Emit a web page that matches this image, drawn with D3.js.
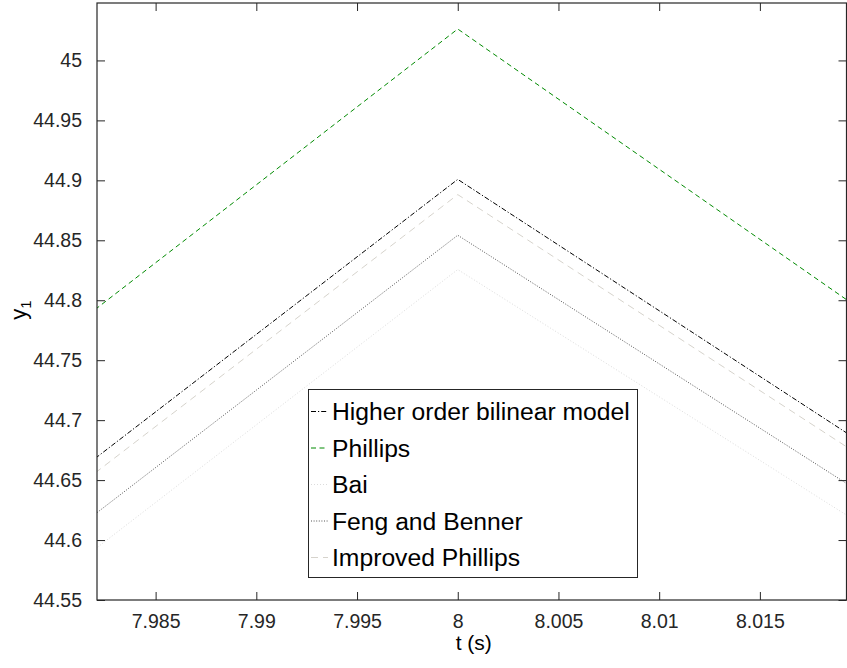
<!DOCTYPE html>
<html>
<head>
<meta charset="utf-8">
<script src="https://cdn.jsdelivr.net/npm/d3@7"></script>
<style>
  html, body { margin: 0; padding: 0; background: #fff; }
  svg { display: block; font-family: "Liberation Sans", Arial, Helvetica, sans-serif; }
</style>
</head>
<body>
<svg id="chart" width="847" height="668"></svg>
<script>
// Time samples (s): window edges and the switching instant
const times = [7.982, 8.0, 8.0193];

// Output y1 for each model
const higherOrder = [44.6681, 44.9008, 44.6894];
const phillips    = [44.7923, 45.0262, 44.8005];
const bai         = [44.5925, 44.8256, 44.6208];
const fengBenner  = [44.6217, 44.8542, 44.6472];
const improved    = [44.6560, 44.8881, 44.6778];

const seriesNames = ["Higher order bilinear model", "Phillips", "Bai", "Feng and Benner", "Improved Phillips"];

const xTicks = [7.985, 7.99, 7.995, 8, 8.005, 8.01, 8.015];
const yTicks = [44.55, 44.6, 44.65, 44.7, 44.75, 44.8, 44.85, 44.9, 44.95, 45];

const xDomain = [7.98209, 8.0193];
const yDomain = [44.55, 45.0479];

// Line styles per series
const styles = [
  { color: "#000000", dash: "5,2,1.2,2", width: 1 },
  { color: "#008a00", dash: "5,3.5",     width: 1 },
  { color: "#dcdcdc", dash: "1,2",       width: 1 },
  { color: "#555555", dash: "1,1.6",     width: 1 },
  { color: "#d6d3cc", dash: "7,5",       width: 1 }
];

const seriesValues = [higherOrder, phillips, bai, fengBenner, improved];

const margin = { left: 97, top: 3, right: 846.5, bottom: 600 };
const svg = d3.select("#chart");

const x = d3.scaleLinear().domain(xDomain).range([margin.left, margin.right]);
const y = d3.scaleLinear().domain(yDomain).range([margin.bottom, margin.top]);

const axisColor = "#262626";
const tickLen = 8;

svg.append("defs").append("clipPath").attr("id", "plotClip")
  .append("rect")
  .attr("x", margin.left).attr("y", margin.top)
  .attr("width", margin.right - margin.left)
  .attr("height", margin.bottom - margin.top);

// Data lines
const line = d3.line().x((d, i) => x(times[i])).y(d => y(d));
const plot = svg.append("g").attr("clip-path", "url(#plotClip)");
seriesValues.forEach((vals, k) => {
  plot.append("path")
    .attr("d", line(vals))
    .attr("fill", "none")
    .attr("stroke", styles[k].color)
    .attr("stroke-width", styles[k].width)
    .attr("stroke-dasharray", styles[k].dash);
});

// Axes: inward ticks on all four sides
const fmt = d => String(+d.toFixed(4));
const bottomAxis = d3.axisBottom(x).tickValues(xTicks).tickSizeInner(-tickLen).tickSizeOuter(0).tickPadding(14).tickFormat(fmt);
const topAxis = d3.axisTop(x).tickValues(xTicks).tickSizeInner(-tickLen).tickSizeOuter(0).tickFormat("");
const leftAxis = d3.axisLeft(y).tickValues(yTicks).tickSizeInner(-tickLen).tickSizeOuter(0).tickPadding(15).tickFormat(fmt);
const rightAxis = d3.axisRight(y).tickValues(yTicks).tickSizeInner(-tickLen).tickSizeOuter(0).tickFormat("");

function styleAxis(g) {
  g.select(".domain").remove();
  g.selectAll(".tick line").attr("stroke", axisColor).attr("stroke-width", 1);
  g.selectAll(".tick text").attr("fill", axisColor).attr("font-size", 19.5)
    .attr("font-family", "'Liberation Sans', Arial, sans-serif");
}

svg.append("g").attr("transform", `translate(0,${margin.bottom})`).call(bottomAxis).call(styleAxis);
svg.append("g").attr("transform", `translate(0,${margin.top})`).call(topAxis).call(styleAxis);
svg.append("g").attr("transform", `translate(${margin.left},0)`).call(leftAxis).call(styleAxis);
svg.append("g").attr("transform", `translate(${margin.right},0)`).call(rightAxis).call(styleAxis);

// Axes box
svg.append("rect")
  .attr("x", margin.left).attr("y", margin.top)
  .attr("width", margin.right - margin.left)
  .attr("height", margin.bottom - margin.top)
  .attr("fill", "none").attr("stroke", axisColor).attr("stroke-width", 1.2);

// Axis labels
svg.append("text")
  .attr("x", (margin.left + margin.right) / 2 + 2).attr("y", 650)
  .attr("text-anchor", "middle").attr("font-size", 21).attr("fill", "#000")
  .text("t (s)");

const yl = svg.append("text")
  .attr("transform", "translate(26,310) rotate(-90)")
  .attr("text-anchor", "middle").attr("font-size", 22).attr("fill", "#000");
yl.append("tspan").text("y");
yl.append("tspan").attr("font-size", 15).attr("dy", 5).text("1");

// Legend
const lg = { x0: 308.5, y0: 389.5, x1: 637.5, rowY: 411.5, rowStep: 36.5 };
const legend = svg.append("g");
legend.append("rect")
  .attr("x", lg.x0).attr("y", lg.y0)
  .attr("width", lg.x1 - lg.x0)
  .attr("height", lg.rowY + lg.rowStep * (seriesNames.length - 1) + 20 - lg.y0)
  .attr("fill", "#fff").attr("stroke", axisColor).attr("stroke-width", 1);

seriesNames.forEach((name, k) => {
  const cy = lg.rowY + k * lg.rowStep;
  legend.append("line")
    .attr("x1", 311).attr("x2", 328).attr("y1", cy).attr("y2", cy)
    .attr("stroke", styles[k].color).attr("stroke-width", styles[k].width)
    .attr("stroke-dasharray", styles[k].dash);
  legend.append("text")
    .attr("x", 332).attr("y", cy + 8.5)
    .attr("font-size", 24.7).attr("fill", "#000")
    .text(name);
});
</script>
</body>
</html>
